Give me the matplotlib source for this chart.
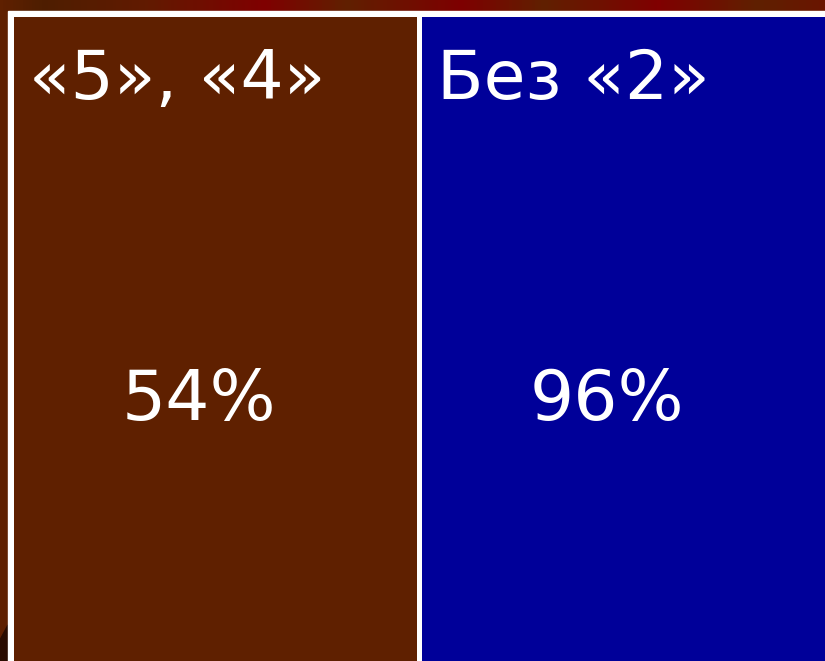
import numpy as np
import matplotlib
matplotlib.use('Agg')
import matplotlib.pyplot as plt
from matplotlib.colors import LinearSegmentedColormap

labels  = ["«5», «4»", "Без «2»"]
values  = [54, 96]
colors  = ["#5F2000", "#000099"]

W, H = 825, 661
fig = plt.figure(figsize=(W/100, H/100), dpi=100)
fig.patch.set_facecolor("#5F2000")

# background: top gradient strip + white frame
bg = fig.add_axes([0, 0, 1, 1])
bg.set_xlim(0, W)
bg.set_ylim(H, 0)
bg.axis('off')
strip = LinearSegmentedColormap.from_list("strip", [
    (0.00, "#5F2000"), (0.05, "#4E1E00"), (0.18, "#621A00"), (0.32, "#800000"),
    (0.42, "#602000"), (0.56, "#7E0000"), (0.66, "#602000"), (0.80, "#800000"),
    (0.92, "#5F2000"), (1.00, "#6A1500")])
bg.imshow(np.linspace(0, 1, 256)[None, :], cmap=strip, aspect='auto',
          extent=[0, W, 11, 0])
bg.fill([0, 8, 8, 0], [640, 625, H, H], color="#2A0C00")
bg.add_patch(plt.Rectangle((8, 11), W, H, color="white"))

# panels
ax = fig.add_axes([14/W, 0, (W-14)/W, (H-17)/H])
ax.set_facecolor("white")
x = np.arange(len(labels))
ax.bar(x, 1, width=0.99, align='edge', color=colors)
ax.set_xlim(0, 1.99)
ax.set_ylim(0, 1)
ax.axis('off')

for i, (lab, v) in enumerate(zip(labels, values)):
    ax.text(x[i] + 0.037, 0.873, lab, color="white", fontsize=49,
            ha='left', va='baseline')
    ax.text(x[i] + 0.455, 0.374, "{0}%".format(v), color="white", fontsize=50,
            ha='center', va='baseline')

plt.savefig("out.png", dpi=100)
